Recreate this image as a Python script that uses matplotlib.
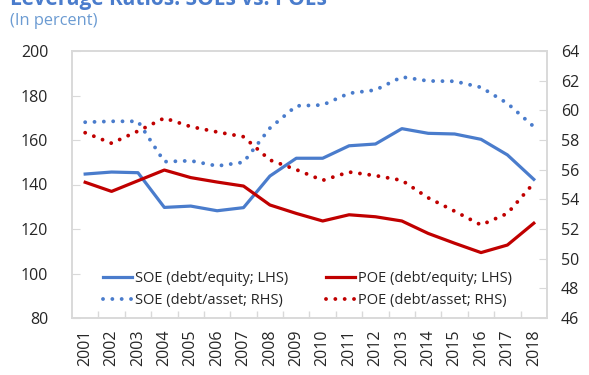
import matplotlib.pyplot as plt

plt.rcParams['font.family'] = ['Open Sans', 'DejaVu Sans']

years = [str(y) for y in range(2001, 2019)]

# LHS: debt-to-equity (percent)
soe_debt_equity = [144.7, 145.6, 145.3, 129.7, 130.3, 128.2, 129.6, 143.8, 151.8,
                   151.8, 157.4, 158.2, 165.1, 163.0, 162.7, 160.3, 153.3, 142.3]
poe_debt_equity = [141.0, 136.9, 141.7, 146.5, 143.1, 141.1, 139.3, 130.8, 127.0,
                   123.6, 126.4, 125.5, 123.6, 118.0, 113.6, 109.4, 112.8, 122.6]

# RHS: debt-to-asset (percent)
soe_debt_asset = [59.2, 59.26, 59.26, 56.54, 56.6, 56.25, 56.5, 58.8, 60.3,
                  60.36, 61.15, 61.37, 62.25, 61.98, 61.96, 61.55, 60.47, 58.9]
poe_debt_asset = [58.49, 57.78, 58.6, 59.48, 58.9, 58.54, 58.22, 56.65, 56.0,
                  55.28, 55.84, 55.6, 55.28, 54.1, 53.2, 52.27, 53.05, 55.1]

blue = '#4a7ccc'
red = '#c00000'
frame = '#d9d9d9'
text_col = '#262626'

fig = plt.figure(figsize=(5.89, 3.75), dpi=100)
ax = fig.add_axes([0.1222, 0.152, 0.8065, 0.712])
ax2 = ax.twinx()

x = list(range(len(years)))
l1, = ax.plot(x, soe_debt_equity, color=blue, lw=2.3, label='SOE (debt/equity; LHS)',
              solid_joinstyle='round')
l2, = ax.plot(x, poe_debt_equity, color=red, lw=2.3, label='POE (debt/equity; LHS)',
              solid_joinstyle='round')
dots = (0, (0.001, 2.4))
l3, = ax2.plot(x, soe_debt_asset, color=blue, lw=2.8, linestyle=dots,
               dash_capstyle='round', label='SOE (debt/asset; RHS)')
l4, = ax2.plot(x, poe_debt_asset, color=red, lw=2.8, linestyle=dots,
               dash_capstyle='round', label='POE (debt/asset; RHS)')

ax.set_xlim(-0.5, len(years) - 0.5)
ax.set_ylim(80, 200)
ax.set_yticks(range(80, 201, 20))
ax2.set_ylim(46, 64)
ax2.set_yticks(range(46, 65, 2))

# category labels centred, tick marks between categories
ax.set_xticks(x)
ax.set_xticklabels(years, rotation=90, fontsize=11.5, color=text_col)
ax.set_xticks([i - 0.5 for i in range(1, len(years))], minor=True)
ax.tick_params(axis='x', which='major', length=0, pad=8)
ax.tick_params(axis='x', which='minor', direction='in', length=5, color=frame, width=1)
ax.tick_params(axis='y', direction='in', length=6, color=frame, labelsize=11.5,
               labelcolor=text_col, pad=17)
ax2.tick_params(axis='y', direction='in', length=6, color=frame, labelsize=11.5,
                labelcolor=text_col, pad=10)
for a in (ax, ax2):
    for s in a.spines.values():
        s.set_color(frame)
        s.set_linewidth(1.2)

ax2.legend(handles=[l1, l3, l2, l4], ncol=2, loc='lower left',
           bbox_to_anchor=(0.05, 0.01), frameon=False, fontsize=10.5,
           handlelength=2.0, handletextpad=0.2, columnspacing=2.6,
           labelspacing=0.45, labelcolor=text_col, borderpad=0)

fig.text(0.017, 1 - 5 / 375, 'Leverage Ratios: SOEs vs. POEs', color='#4a7ccc',
         fontsize=15, fontweight='bold', va='baseline', ha='left')
fig.text(0.017, 0.943, '(In percent)', color='#6b9bd2', fontsize=11.8,
         va='center', ha='left')

fig.savefig('out.png', dpi=100)
